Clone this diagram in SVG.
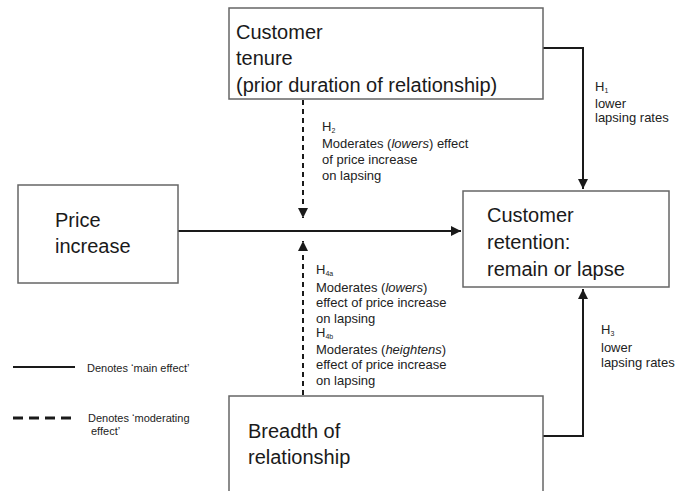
<svg xmlns="http://www.w3.org/2000/svg" width="688" height="491" viewBox="0 0 688 491">
<defs>
<marker id="ah" viewBox="0 0 10 10" refX="10" refY="5" markerWidth="10" markerHeight="10" markerUnits="userSpaceOnUse" orient="auto">
<path d="M0,0 L10,5 L0,10 z" fill="#1a1a1a"/>
</marker>
<style>
.box{fill:#fff;stroke:#666;stroke-width:1.5}
.big{font-family:"Liberation Sans",Arial,sans-serif;font-size:20px;fill:#1a1a1a}
.sm{font-family:"Liberation Sans",Arial,sans-serif;font-size:13px;fill:#222}
.xs{font-family:"Liberation Sans",Arial,sans-serif;font-size:11px;fill:#222}
.sub{font-size:7px}
.main{fill:none;stroke:#1a1a1a;stroke-width:2}
.mod{fill:none;stroke:#1a1a1a;stroke-width:2;stroke-dasharray:5 4}
</style>
</defs>
<rect width="688" height="491" fill="#fff"/>
<g id="connectors">
<path class="main" d="M543,48 H583 V189" marker-end="url(#ah)"/>
<path class="main" d="M178,231 H461" marker-end="url(#ah)"/>
<path class="main" d="M543,436 H583 V289" marker-end="url(#ah)"/>
<path class="mod" d="M303,100 V218" marker-end="url(#ah)"/>
<path class="mod" d="M303,395 V241" marker-end="url(#ah)"/>
<text class="sm"><tspan x="595" y="91">H<tspan class="sub" dy="2">1</tspan></tspan><tspan x="595" y="108">lower</tspan><tspan x="595" y="122">lapsing rates</tspan></text>
<text class="sm"><tspan x="322" y="131">H<tspan class="sub" dy="2">2</tspan></tspan><tspan x="322" y="148">Moderates (<tspan font-style="italic">lowers</tspan>) effect</tspan><tspan x="322" y="164">of price increase</tspan><tspan x="322" y="180">on lapsing</tspan></text>
<text class="sm"><tspan x="316" y="274">H<tspan class="sub" dy="2">4a</tspan></tspan><tspan x="316" y="292">Moderates (<tspan font-style="italic">lowers</tspan>)</tspan><tspan x="316" y="307">effect of price increase</tspan><tspan x="316" y="323">on lapsing</tspan><tspan x="316" y="337">H<tspan class="sub" dy="2">4b</tspan></tspan><tspan x="316" y="354">Moderates (<tspan font-style="italic">heightens</tspan>)</tspan><tspan x="316" y="369">effect of price increase</tspan><tspan x="316" y="385">on lapsing</tspan></text>
<text class="sm"><tspan x="601" y="334">H<tspan class="sub" dy="2">3</tspan></tspan><tspan x="601" y="352">lower</tspan><tspan x="601" y="367">lapsing rates</tspan></text>
</g>
<g id="tenure">
<rect class="box" x="229" y="8" width="314" height="91"/>
<text class="big"><tspan x="236" y="39">Customer</tspan><tspan x="236" y="65">tenure</tspan><tspan x="236" y="92">(prior duration of relationship)</tspan></text>
</g>
<g id="price">
<rect class="box" x="18" y="185" width="160" height="98"/>
<text class="big"><tspan x="55" y="227">Price</tspan><tspan x="55" y="253">increase</tspan></text>
</g>
<g id="retention">
<rect class="box" x="463" y="191" width="206" height="96"/>
<text class="big"><tspan x="487" y="222">Customer</tspan><tspan x="487" y="249">retention:</tspan><tspan x="487" y="276">remain or lapse</tspan></text>
</g>
<g id="breadth">
<rect class="box" x="229" y="396" width="314" height="110"/>
<text class="big"><tspan x="248" y="438">Breadth of</tspan><tspan x="248" y="464">relationship</tspan></text>
</g>
<g id="legend">
<line class="main" x1="13" y1="367" x2="75" y2="367" stroke-width="2.5"/>
<text class="xs" x="87" y="372">Denotes ‘main effect’</text>
<line x1="13" y1="418" x2="72" y2="418" stroke="#1a1a1a" stroke-width="3" stroke-dasharray="10 6"/>
<text class="xs"><tspan x="88" y="422">Denotes ‘moderating</tspan><tspan x="91" y="435">effect’</tspan></text>
</g>
</svg>
